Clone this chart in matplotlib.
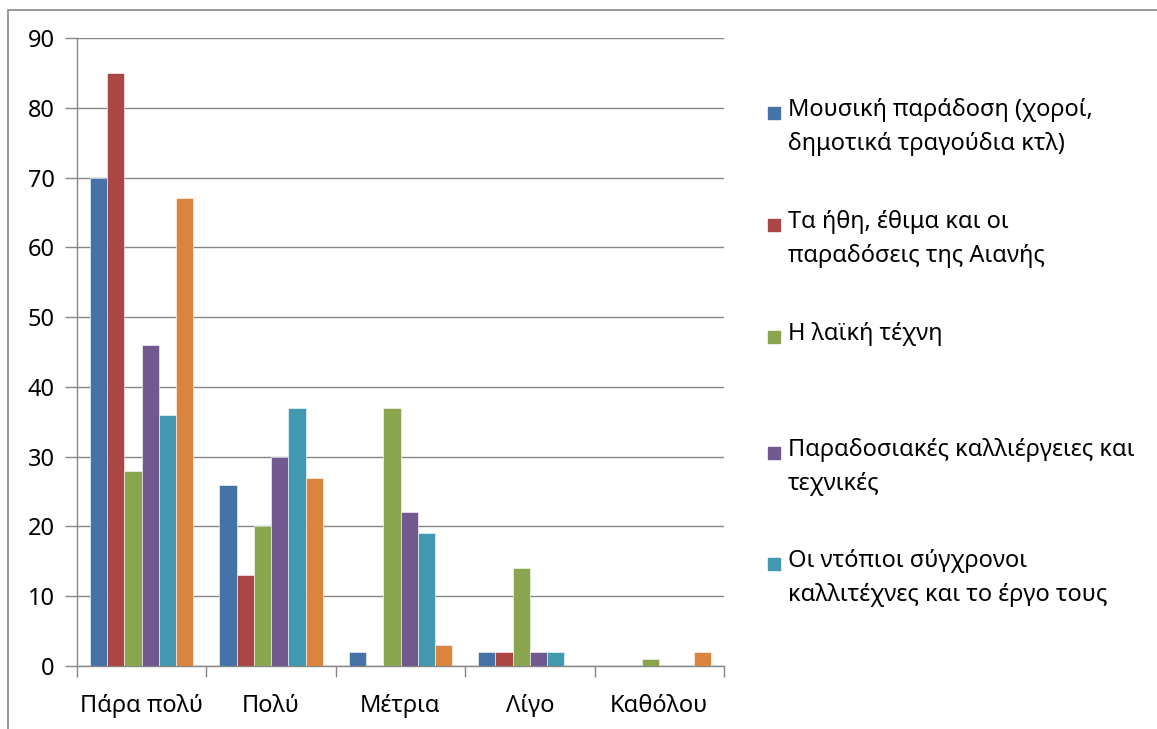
import matplotlib.pyplot as plt
import numpy as np
from matplotlib.patches import Rectangle

plt.rcParams["font.family"] = ["Noto Sans", "DejaVu Sans"]

categories = ["Πάρα πολύ", "Πολύ", "Μέτρια", "Λίγο", "Καθόλου"]
series_names = [
    "Μουσική παράδοση (χοροί,\nδημοτικά τραγούδια κτλ)",
    "Τα ήθη, έθιμα και οι\nπαραδόσεις της Αιανής",
    "Η λαϊκή τέχνη",
    "Παραδοσιακές καλλιέργειες και\nτεχνικές",
    "Οι ντόπιοι σύγχρονοι\nκαλλιτέχνες και το έργο τους",
    "",
]
music = [70, 26, 2, 2, 0]
customs = [85, 13, 0, 2, 0]
folk_art = [28, 20, 37, 14, 1]
farming = [46, 30, 22, 2, 0]
artists = [36, 37, 19, 2, 0]
other = [67, 27, 3, 0, 2]
colors = ["#4572A7", "#AA4643", "#89A54E", "#71588F", "#4198AF", "#DB843D"]

values = [music, customs, folk_art, farming, artists, other]

fig = plt.figure(figsize=(11.57, 7.29), dpi=100)
ax = fig.add_axes([77 / 1157, 1 - 666 / 729, (724 - 77) / 1157, (666 - 38) / 729])

n = len(values)
width = 1 / (n + 1.5)
x = np.arange(len(categories))
for i, (vals, col) in enumerate(zip(values, colors)):
    offs = (i - (n - 1) / 2) * width
    ax.bar(x + offs, vals, width=width, color=col, edgecolor="white", linewidth=0.4, zorder=3)

ax.set_xlim(-0.5, len(categories) - 0.5)
ax.set_ylim(0, 90)
ax.set_yticks(range(0, 91, 10))
ax.set_xticks(x)
ax.set_xticklabels(categories, fontsize=17)
ax.set_xticks(np.arange(-0.5, len(categories), 1), minor=True)
ax.tick_params(axis="x", which="major", length=0, pad=20)
ax.tick_params(axis="x", which="minor", length=8, color="#868686", width=1)
ax.tick_params(axis="y", length=9, color="#868686", width=1, labelsize=17, pad=7)
ax.grid(axis="y", color="#868686", linewidth=1, zorder=0)
for side in ["top", "right"]:
    ax.spines[side].set_visible(False)
for side in ["left", "bottom"]:
    ax.spines[side].set_color("#868686")
    ax.spines[side].set_linewidth(1)

# outer chart frame (only left and top edges are visible in the crop)
fig.patches.append(Rectangle((8 / 1157, -0.1), 1.2, 1 - 10 / 729 + 0.1,
                             transform=fig.transFigure, fill=False,
                             edgecolor="#868686", linewidth=1.2))

# legend, drawn by hand so markers sit at the first line of each entry
legend_tops = [113, 225, 337, 453, 564]
for name, col, ytop in zip(series_names[:5], colors[:5], legend_tops):
    yf = 1 - ytop / 729
    fig.patches.append(Rectangle((768 / 1157, yf - 6 / 729), 12 / 1157, 12 / 729,
                                 transform=fig.transFigure, color=col))
    fig.text(788 / 1157, yf + 15 / 729, name, fontsize=17, va="top", ha="left",
             linespacing=1.55)

fig.savefig("out.png", dpi=100)
